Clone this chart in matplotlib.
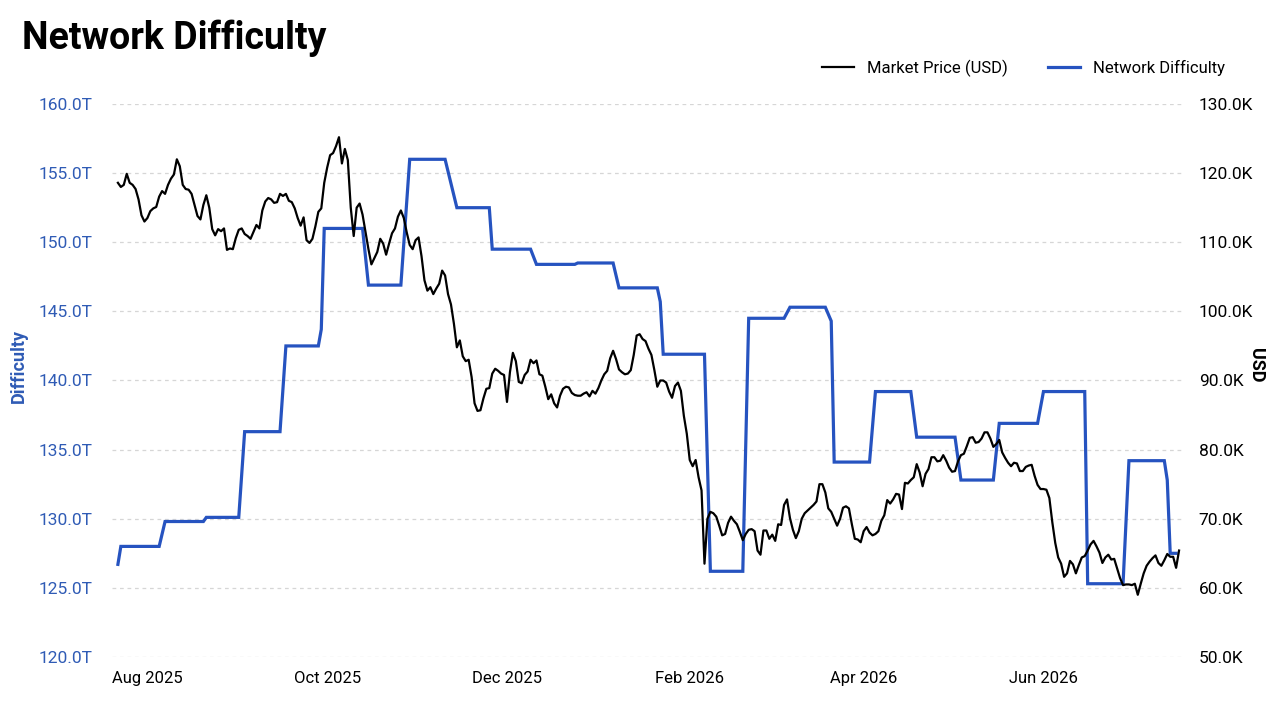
import matplotlib
matplotlib.use("Agg")
import matplotlib.pyplot as plt
import matplotlib.dates as mdates
import pandas as pd

# ---------------- data ----------------
price_start = "2025-07-22"   # daily closing price (USD, thousands)
price_k = [
    118.6, 118.0, 118.3, 119.9, 118.6, 118.3, 117.7, 116.2, 113.9, 113.0,
    113.5, 114.5, 114.9, 115.1, 116.6, 117.4, 117.0, 118.3, 119.2, 119.8,
    122.0, 121.0, 118.3, 117.7, 117.6, 117.0, 115.4, 113.8, 113.3, 115.4,
    116.8, 115.0, 111.9, 111.0, 111.9, 111.6, 112.0, 108.9, 109.1, 109.0,
    110.6, 111.8, 112.0, 111.2, 110.9, 110.5, 111.5, 112.5, 112.0, 114.6,
    115.9, 116.4, 116.2, 115.7, 115.8, 117.0, 116.7, 117.0, 116.0, 115.8,
    114.9, 113.5, 112.4, 113.6, 110.3, 109.9, 110.5, 112.3, 114.4, 114.9,
    118.6, 120.8, 122.6, 122.9, 123.9, 125.2, 121.4, 123.5, 121.9, 115.0,
    110.9, 115.0, 115.6, 114.0, 111.5, 109.0, 106.8, 107.7, 108.6, 110.5,
    109.8, 108.2, 109.8, 111.3, 112.0, 113.7, 114.6, 113.5, 111.4, 109.6,
    109.0, 110.3, 110.7, 108.0, 104.5, 103.0, 103.5, 102.5, 103.3, 104.0,
    105.9, 105.2, 102.5, 101.0, 98.2, 94.8, 95.8, 93.5, 92.8, 93.0,
    90.5, 86.7, 85.6, 85.7, 87.4, 88.8, 88.9, 91.0, 91.7, 91.4,
    91.0, 90.8, 86.9, 91.2, 94.0, 92.8, 89.8, 89.6, 90.8, 91.3,
    93.0, 92.5, 92.9, 90.9, 90.7, 89.1, 87.3, 88.0, 86.7, 86.1,
    87.8, 88.8, 89.1, 89.0, 88.2, 87.9, 87.8, 87.8, 88.1, 88.3,
    87.7, 88.5, 88.1, 88.9, 90.0, 90.9, 91.4, 93.2, 94.3, 93.1,
    91.6, 91.2, 90.9, 91.0, 91.5, 93.7, 96.5, 96.7, 96.0, 95.7,
    94.6, 93.7, 91.5, 89.1, 90.0, 90.0, 89.7, 88.4, 87.5, 89.2,
    89.7, 88.5, 84.9, 82.3, 78.5, 77.6, 78.5, 76.0, 74.1, 63.5,
    70.0, 71.0, 70.8, 70.3, 69.0, 67.6, 67.8, 69.4, 70.3, 69.7,
    69.2, 68.1, 66.9, 67.8, 68.4, 68.5, 68.2, 65.4, 64.8, 68.3,
    68.3, 67.1, 67.7, 66.8, 69.2, 69.1, 72.0, 72.8, 70.1, 68.4,
    67.2, 68.2, 70.0, 70.8, 71.2, 71.6, 72.0, 72.5, 75.0, 75.0,
    73.8, 71.5, 71.0, 70.0, 69.0, 70.0, 71.6, 71.8, 71.5, 69.2,
    67.1, 67.0, 66.6, 68.2, 68.8, 68.0, 67.6, 67.8, 68.2, 69.7,
    70.5, 72.7, 72.2, 72.8, 73.6, 73.5, 71.4, 75.2, 75.1, 75.6,
    76.0, 77.9, 76.7, 74.7, 76.5, 77.2, 78.9, 78.9, 78.3, 78.4,
    79.2, 78.4, 77.4, 76.8, 76.9, 78.3, 79.2, 79.4, 80.5, 81.7,
    81.8, 81.0, 81.1, 81.6, 82.5, 82.5, 81.6, 80.4, 80.8, 81.4,
    79.6, 78.8, 78.1, 77.6, 78.1, 78.0, 76.9, 76.9, 77.5, 77.7,
    77.8, 76.2, 74.9, 74.3, 74.3, 74.2, 73.0, 69.5, 66.5, 64.4,
    63.5, 61.6, 62.1, 63.9, 63.4, 62.1, 63.3, 64.4, 64.6, 65.4,
    66.3, 66.8, 66.0, 65.1, 63.6, 64.4, 64.8, 64.1, 64.2, 62.8,
    61.4, 60.4, 60.5, 60.5, 60.4, 60.6, 59.0, 60.6, 62.1, 63.2,
    63.8, 64.3, 64.7, 63.6, 63.2, 64.0, 64.9, 64.5, 64.5, 62.9, 65.4,
]

diff_dates = [
    "2025-07-22", "2025-07-23", "2025-08-05", "2025-08-07", "2025-08-20",
    "2025-08-21", "2025-09-01", "2025-09-03", "2025-09-15", "2025-09-17",
    "2025-09-28", "2025-09-29", "2025-09-30", "2025-10-13", "2025-10-15",
    "2025-10-26", "2025-10-29", "2025-11-10", "2025-11-14", "2025-11-25",
    "2025-11-26", "2025-12-09", "2025-12-11", "2025-12-24", "2025-12-25",
    "2026-01-06", "2026-01-08", "2026-01-21", "2026-01-22", "2026-01-23",
    "2026-02-06", "2026-02-08", "2026-02-19", "2026-02-21", "2026-03-05",
    "2026-03-07", "2026-03-19", "2026-03-21", "2026-03-22", "2026-04-03",
    "2026-04-05", "2026-04-17", "2026-04-19", "2026-05-02", "2026-05-04",
    "2026-05-15", "2026-05-17", "2026-05-30", "2026-06-01", "2026-06-15",
    "2026-06-16", "2026-06-28", "2026-06-30", "2026-07-12", "2026-07-13",
    "2026-07-14", "2026-07-16",
]
diff_t = [
    126.7, 128.0, 128.0, 129.8, 129.8,
    130.1, 130.1, 136.3, 136.3, 142.5,
    142.5, 143.7, 151.0, 151.0, 146.9,
    146.9, 156.0, 156.0, 152.5, 152.5,
    149.5, 149.5, 148.4, 148.4, 148.5,
    148.5, 146.7, 146.7, 145.7, 141.9,
    141.9, 126.2, 126.2, 144.5, 144.5,
    145.3, 145.3, 144.3, 134.1, 134.1,
    139.2, 139.2, 135.9, 135.9, 132.8,
    132.8, 136.9, 136.9, 139.2, 139.2,
    125.3, 125.3, 134.2, 134.2, 132.8,
    127.5, 127.5,
]

left_ticks = [120, 125, 130, 135, 140, 145, 150, 155, 160]
right_ticks = [50, 60, 70, 80, 90, 100, 110, 120, 130]

# ---------------- style ----------------
BLUE = "#2653c0"
BLUE_TXT = "#2f5bb5"
FONT = ["Roboto", "DejaVu Sans"]
plt.rcParams["font.family"] = FONT

fig = plt.figure(figsize=(12.8, 7.2), dpi=100)
ax1 = fig.add_axes([112 / 1280, 1 - 657 / 720, 1070 / 1280, 553 / 720])
ax2 = ax1.twinx()

price_dates = pd.date_range(price_start, periods=len(price_k), freq="D")
d_dates = pd.to_datetime(diff_dates)

l1, = ax1.plot(d_dates, diff_t, color=BLUE, lw=2.3, solid_joinstyle="miter",
               label="Network Difficulty")
l2, = ax2.plot(price_dates, price_k, color="black", lw=1.6,
               label="Market Price (USD)")

ax1.set_ylim(120, 160)
ax2.set_ylim(50, 130)
ax1.set_xlim(pd.Timestamp("2025-07-20"), pd.Timestamp("2026-07-18"))

ax1.set_yticks(left_ticks)
ax1.set_yticklabels([f"{v:.1f}T" for v in left_ticks])
ax2.set_yticks(right_ticks)
ax2.set_yticklabels([f"{v:.1f}K" for v in right_ticks])

ax1.xaxis.set_major_locator(mdates.MonthLocator(bymonth=[2, 4, 6, 8, 10, 12]))
ax1.xaxis.set_major_formatter(mdates.DateFormatter("%b %Y"))

for ax in (ax1, ax2):
    for s in ax.spines.values():
        s.set_visible(False)
    ax.tick_params(length=0)

ax1.tick_params(axis="y", labelcolor=BLUE_TXT, labelsize=12.5, pad=14)
ax2.tick_params(axis="y", labelcolor="black", labelsize=12.5, pad=12)
ax1.tick_params(axis="x", labelcolor="black", labelsize=12, pad=10)

ax1.grid(axis="y", color="#d6d6d6", linestyle=(0, (3, 3)), lw=0.9)
ax1.grid(axis="x", visible=False)
ax1.set_axisbelow(True)

ax1.set_ylabel("Difficulty", color=BLUE_TXT, fontsize=13, fontweight="bold")
ax1.yaxis.set_label_coords(-0.079, 0.527)
ax2.set_ylabel("USD", color="black", fontsize=13, fontweight="bold",
               rotation=270, va="center")
ax2.yaxis.set_label_coords(1.069, 0.527)

fig.text(22 / 1280, 1 - 38 / 720, "Network Difficulty", fontsize=27,
         fontweight="bold", va="center", ha="left")

fig.legend(handles=[l2, l1], loc="center right", ncol=2, frameon=False,
           bbox_to_anchor=(1240 / 1280, 1 - 68 / 720), fontsize=12,
           handlelength=1.9, columnspacing=2.4, handletextpad=0.8)

fig.savefig("out.png", dpi=100)
